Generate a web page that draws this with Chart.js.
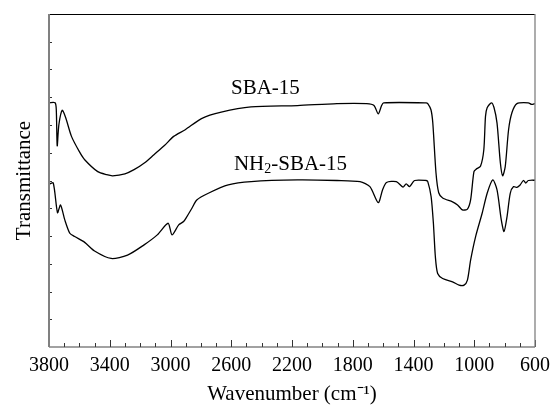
<!DOCTYPE html>
<html>
<head>
<meta charset="utf-8">
<script src="https://cdn.jsdelivr.net/npm/chart.js@4/dist/chart.umd.min.js"></script>
<style>
  body { margin: 0; background: #fff; }
  canvas { display: block; }
</style>
</head>
<body>
<canvas id="ftir" width="557" height="407"></canvas>
<script>
// FTIR spectra (wavenumber in cm-1, transmittance in arbitrary units)
const sbaWavenumber = [3800, 3760, 3752, 3746, 3735, 3713, 3690, 3652, 3600, 3565, 3479, 3420, 3381, 3300, 3240, 3170, 3109, 3040, 2979, 2903, 2796, 2666, 2470, 2164, 1904, 1708, 1660, 1632, 1610, 1597, 1317, 1306, 1285, 1273, 1252, 1234, 1208, 1143, 1110, 1078, 1045, 1024, 1002, 987, 959, 937, 926, 915, 887, 870, 850, 828, 813, 796, 774, 752, 719, 644, 622, 600];
const sbaT = [88.0, 88.0, 85.5, 72.5, 80.1, 85.3, 82.6, 75.9, 70.4, 67.5, 63.2, 62.1, 61.7, 62.4, 63.9, 66.4, 69.3, 72.6, 75.9, 78.3, 82.3, 84.6, 86.5, 87.0, 87.7, 87.7, 87.0, 84.0, 87.0, 88.0, 88.0, 87.7, 85.5, 80.8, 62.8, 55.6, 53.7, 52.3, 51.2, 49.4, 49.7, 53.0, 63.2, 64.1, 65.1, 71.1, 83.1, 86.2, 88.0, 86.3, 80.7, 66.3, 61.7, 65.0, 78.3, 84.4, 87.7, 88.0, 87.4, 87.7];

const nh2Wavenumber = [3800, 3772, 3744, 3724, 3696, 3663, 3631, 3565, 3500, 3391, 3283, 3174, 3087, 3016, 2990, 2946, 2914, 2892, 2859, 2827, 2751, 2620, 2469, 2164, 1904, 1752, 1687, 1632, 1604, 1578, 1513, 1469, 1448, 1426, 1393, 1317, 1306, 1284, 1269, 1256, 1241, 1208, 1143, 1100, 1067, 1045, 1024, 991, 948, 915, 878, 850, 822, 804, 784, 763, 741, 719, 698, 676, 661, 644, 600];
const nh2T = [58.7, 59.1, 48.4, 51.2, 45.8, 41.0, 39.8, 37.7, 34.6, 31.9, 33.1, 36.8, 40.4, 44.6, 40.4, 44.0, 45.2, 47.0, 50.0, 53.0, 55.4, 58.4, 59.6, 60.2, 60.0, 59.6, 57.8, 52.0, 56.6, 59.3, 59.6, 57.6, 58.8, 57.8, 60.0, 60.0, 59.6, 54.2, 44.6, 32.5, 26.5, 24.7, 23.5, 22.3, 22.3, 24.1, 31.3, 39.8, 48.2, 55.4, 60.2, 56.6, 45.8, 41.6, 47.0, 55.4, 57.8, 57.5, 58.4, 60.0, 59.1, 60.0, 60.1];

const xTickLabels = [3800, 3400, 3000, 2600, 2200, 1800, 1400, 1000, 600];
const seriesLabels = ['SBA-15', 'NH2-SBA-15'];
// where each curve name sits, in data units [wavenumber, transmittance]
const labelAnchors = [[2375, 93.0], [2210, 65.8]];

const serif = '"Liberation Serif", "Times New Roman", serif';

function toPoints(xs, ys) {
    return xs.map((x, i) => ({ x: x, y: ys[i] }));
}

// frame, inward ticks and curve names
const decorations = {
    id: 'decorations',
    afterDatasetsDraw(chart) {
        const { ctx, chartArea: a, scales } = chart;
        const xs = scales.x, ys = scales.y;
        ctx.save();

        // tick marks pointing into the plot
        ctx.strokeStyle = '#333';
        ctx.lineWidth = 1;
        ctx.beginPath();
        for (let v = 600; v <= 3800; v += 100) {
            const px = Math.round(xs.getPixelForValue(v)) + 0.5;
            const len = xTickLabels.includes(v) ? 7 : 4;
            ctx.moveTo(px, a.bottom);
            ctx.lineTo(px, a.bottom - len);
        }
        for (let v = 10; v < 120; v += 10) {
            const py = Math.round(ys.getPixelForValue(v)) + 0.5;
            ctx.moveTo(a.left, py);
            ctx.lineTo(a.left + 3, py);
        }
        ctx.stroke();

        // frame
        ctx.lineWidth = 1;
        ctx.strokeStyle = '#000';
        ctx.beginPath();
        ctx.moveTo(a.left, a.top + 0.5);
        ctx.lineTo(a.right, a.top + 0.5);
        ctx.stroke();
        ctx.strokeStyle = '#444';
        ctx.lineWidth = 1.2;
        ctx.beginPath();
        ctx.moveTo(a.left, a.bottom);
        ctx.lineTo(a.right, a.bottom);
        ctx.stroke();
        ctx.strokeStyle = '#808080';
        ctx.lineWidth = 2;
        ctx.beginPath();
        ctx.moveTo(a.left, a.top);
        ctx.lineTo(a.left, a.bottom);
        ctx.stroke();
        ctx.lineWidth = 1.3;
        ctx.beginPath();
        ctx.moveTo(a.right, a.top);
        ctx.lineTo(a.right, a.bottom);
        ctx.stroke();

        // curve names
        ctx.fillStyle = '#000';
        ctx.textBaseline = 'middle';
        ctx.textAlign = 'left';
        const big = '21px ' + serif, small = '14px ' + serif;

        let cx = xs.getPixelForValue(labelAnchors[0][0]);
        let cy = ys.getPixelForValue(labelAnchors[0][1]);
        ctx.font = big;
        let w = ctx.measureText(seriesLabels[0]).width;
        ctx.fillText(seriesLabels[0], cx - w / 2, cy);

        // NH2 with a lowered 2
        cx = xs.getPixelForValue(labelAnchors[1][0]);
        cy = ys.getPixelForValue(labelAnchors[1][1]);
        const parts = ['NH', '2', '-SBA-15'];
        ctx.font = big;
        const w0 = ctx.measureText(parts[0]).width;
        const w2 = ctx.measureText(parts[2]).width;
        ctx.font = small;
        const w1 = ctx.measureText(parts[1]).width;
        let x0 = cx - (w0 + w1 + w2) / 2;
        ctx.font = big;
        ctx.fillText(parts[0], x0, cy);
        ctx.font = small;
        ctx.fillText(parts[1], x0 + w0, cy + 5);
        ctx.font = big;
        ctx.fillText(parts[2], x0 + w0 + w1, cy);

        ctx.restore();
    }
};

const lineStyle = {
    borderColor: '#000',
    borderWidth: 1.3,
    pointRadius: 0,
    tension: 0.25,
    fill: false
};

new Chart(document.getElementById('ftir'), {
    type: 'line',
    data: {
        datasets: [
            Object.assign({ label: seriesLabels[0], data: toPoints(sbaWavenumber, sbaT) }, lineStyle),
            Object.assign({ label: seriesLabels[1], data: toPoints(nh2Wavenumber, nh2T) }, lineStyle)
        ]
    },
    options: {
        responsive: false,
        animation: false,
        devicePixelRatio: 1,
        layout: { padding: { top: 14, right: 17, left: 0, bottom: 0 } },
        plugins: {
            legend: { display: false },
            tooltip: { enabled: false }
        },
        scales: {
            x: {
                type: 'linear',
                reverse: true,
                min: 600,
                max: 3800,
                grid: { display: false, drawTicks: false },
                border: { display: false },
                ticks: {
                    stepSize: 100,
                    autoSkip: false,
                    maxRotation: 0,
                    padding: 7,
                    color: '#000',
                    font: { family: serif, size: 20 },
                    callback: v => xTickLabels.includes(v) ? String(v) : ''
                },
                title: {
                    display: true,
                    text: 'Wavenumber (cm\u207B\u00B9)',
                    color: '#000',
                    font: { family: serif, size: 21 },
                    padding: { top: 0, bottom: 0 }
                },
                afterFit: s => { s.height = 60; }
            },
            y: {
                min: 0,
                max: 120,
                grid: { display: false, drawTicks: false },
                border: { display: false },
                ticks: { display: false, stepSize: 10 },
                title: {
                    display: true,
                    text: 'Transmittance',
                    color: '#000',
                    font: { family: serif, size: 21 },
                    padding: { top: 12, bottom: 0 }
                },
                afterFit: s => { s.width = 49; }
            }
        }
    },
    plugins: [decorations]
});
</script>
</body>
</html>
